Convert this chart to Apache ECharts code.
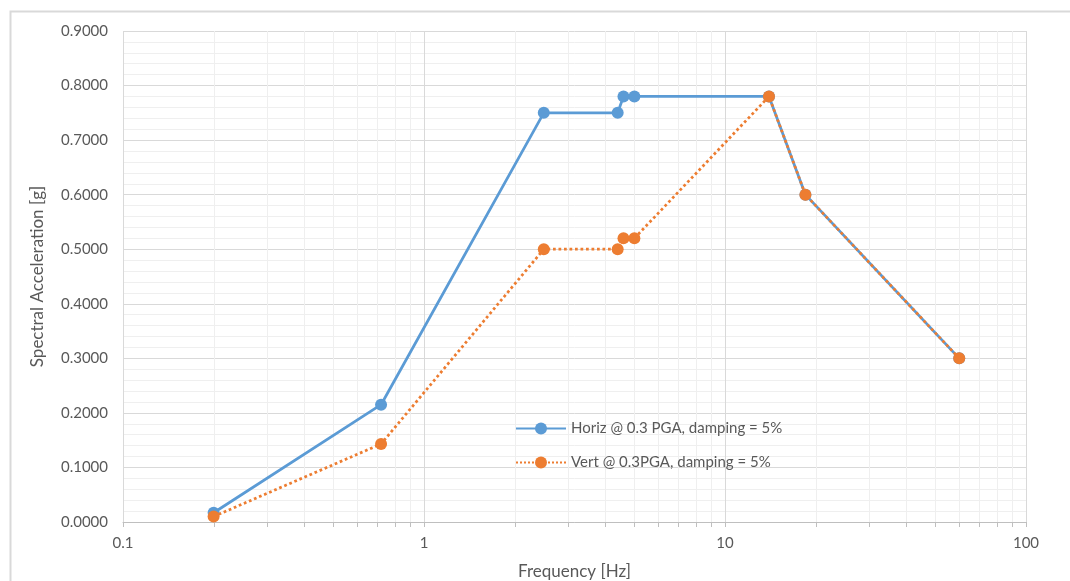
<!DOCTYPE html>
<html><head><meta charset="utf-8">
<script src="https://cdn.jsdelivr.net/npm/echarts@6/dist/echarts.min.js"></script>
<style>html,body{margin:0;padding:0;background:#fff}#c{width:1070px;height:581px}</style>
</head><body><div id="c"></div>
<script>
const freqs = [0.2, 0.72, 2.5, 4.4, 4.6, 5.0, 14, 18.5, 60];
const horiz = [0.017, 0.215, 0.75, 0.75, 0.78, 0.78, 0.78, 0.6, 0.3];
const vert = [0.01, 0.143, 0.5, 0.5, 0.52, 0.52, 0.78, 0.6, 0.3];
const minorX = [0.2,0.3,0.4,0.5,0.6,0.7,0.8,0.9,2,3,4,5,6,7,8,9,20,30,40,50,60,70,80,90];
const seriesNames = ['Horiz @ 0.3 PGA, damping = 5%', 'Vert @ 0.3PGA, damping = 5%'];

const chart = echarts.init(document.getElementById('c'));
const font = 'Lato, "Open Sans", sans-serif';
chart.setOption({
  animation: false,
  textStyle: {fontFamily: font},
  graphic: [{type:'rect', left: 8, top: 9, shape:{width:1100, height:600}, style:{fill:'none', stroke:'#d9d9d9', lineWidth:2}, silent:true, z:-10}],
  grid: {left: 123, right: 44, top: 31, bottom: 59, containLabel: false, outerBoundsMode: 'none'},
  legend: {
    left: 510, top: 416, orient: 'vertical', itemGap: 19, itemWidth: 50, itemHeight: 15,
    textStyle: {fontSize: 15, color: '#595959', fontFamily: font},
    data: seriesNames
  },
  xAxis: {
    type: 'log', logBase: 10, min: 0.1, max: 100,
    name: 'Frequency [Hz]', nameLocation: 'middle', nameGap: 41,
    nameTextStyle: {fontSize: 17, color: '#595959'},
    axisLine: {show: true, lineStyle: {color: '#bfbfbf', width: 1}},
    axisTick: {show: true, length: 5, lineStyle: {color: '#bfbfbf'}},
    axisLabel: {fontSize: 15, color: '#595959', margin: 14, formatter: v => String(+v.toPrecision(3))},
    splitLine: {show: true, lineStyle: {color: '#d9d9d9', width: 1}}
  },
  yAxis: {
    type: 'value', min: 0, max: 0.9, interval: 0.1,
    name: 'Spectral Acceleration [g]', nameLocation: 'middle', nameGap: 77,
    nameTextStyle: {fontSize: 17, color: '#595959'},
    axisLine: {show: false}, axisTick: {show: false},
    axisLabel: {fontSize: 15, color: '#595959', margin: 15, formatter: v => v.toFixed(4)},
    splitLine: {show: true, lineStyle: {color: '#d9d9d9', width: 1}},
    minorTick: {show: false, splitNumber: 5},
    minorSplitLine: {show: true, lineStyle: {color: '#efefef', width: 1}}
  },
  series: [
    {
      type: 'custom', silent: true, z: 0, legendHoverLink: false,
      data: minorX.map(v => [v]),
      encode: {x: 0},
      renderItem: function (params, api) {
        const cs = params.coordSys;
        const x = Math.round(api.coord([api.value(0), 0])[0]) + 0.5;
        return {type: 'group', children: [
          {type: 'line', shape: {x1: x, y1: cs.y, x2: x, y2: cs.y + cs.height}, style: {stroke: '#efefef', lineWidth: 1}},
          {type: 'line', shape: {x1: x, y1: cs.y + cs.height, x2: x, y2: cs.y + cs.height + 5}, style: {stroke: '#bfbfbf', lineWidth: 1}}
        ]};
      }
    },
    {
      name: seriesNames[0], type: 'line', z: 3,
      data: freqs.map((f, i) => [f, horiz[i]]),
      symbol: 'circle', symbolSize: 12,
      itemStyle: {color: '#5B9BD5'},
      lineStyle: {color: '#5B9BD5', width: 2.75}
    },
    {
      name: seriesNames[1], type: 'line', z: 4,
      data: freqs.map((f, i) => [f, vert[i]]),
      symbol: 'circle', symbolSize: 12,
      itemStyle: {color: '#ED7D31'},
      lineStyle: {color: '#ED7D31', width: 2.75, type: 'dotted'}
    }
  ]
});
</script></body></html>
